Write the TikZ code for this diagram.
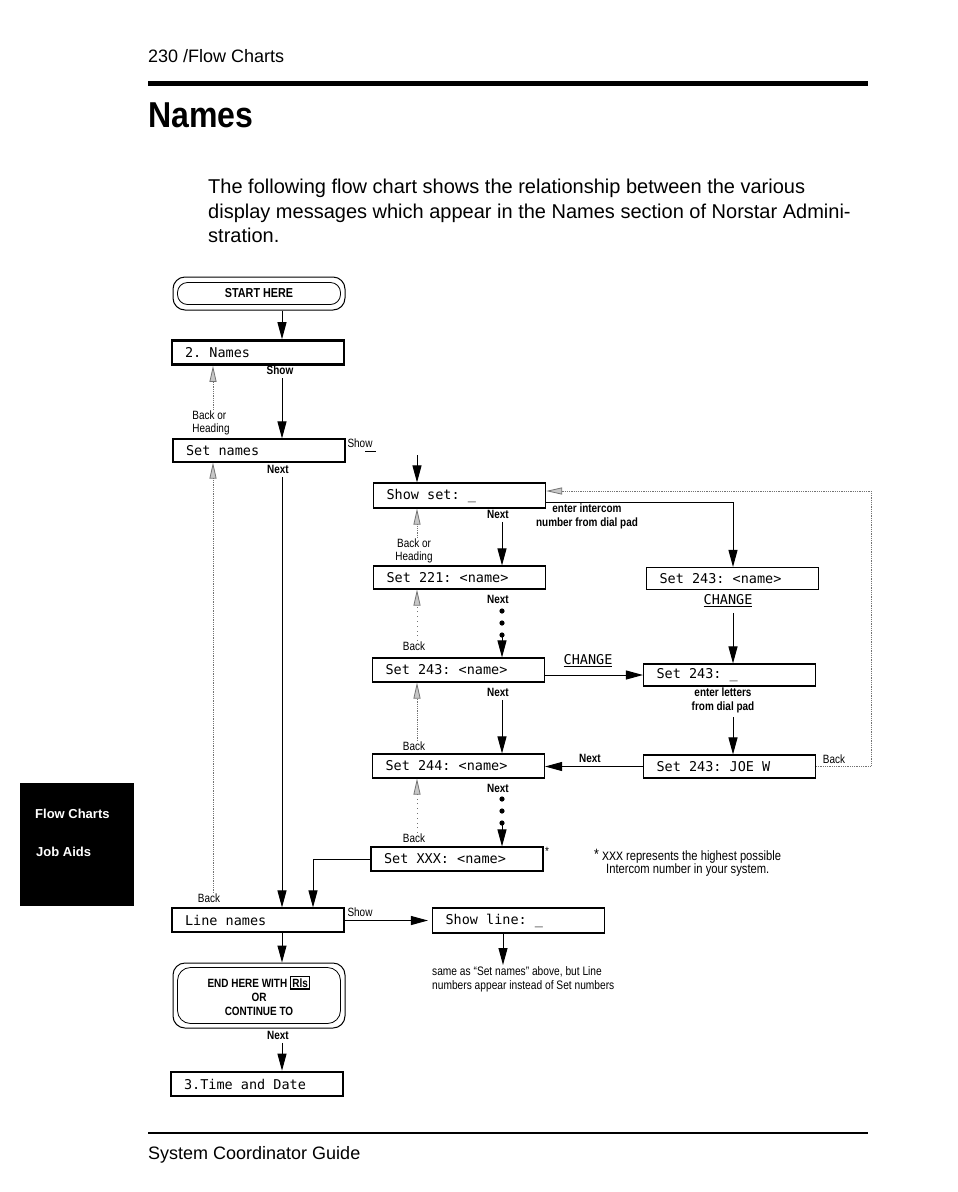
\documentclass[tikz,border=0pt]{standalone}
\usepackage{fontspec}
\setmainfont{Liberation Sans}
\newfontfamily\cond[FakeStretch=0.83]{Liberation Sans}
\newfontfamily\headfont[FakeStretch=0.89]{Liberation Sans}
\newfontfamily\lcd{DejaVu Sans Mono}
\newcommand\lcdfont{\lcd\fontsize{13.5}{15}\selectfont}
\newcommand\monospaces{\spaceskip=0.602em\relax\xspaceskip=0.602em\relax}
\usetikzlibrary{arrows.meta,calc}
\setlength{\fboxsep}{1.2pt}
\setlength{\fboxrule}{1.3pt}
\tikzset{
  lcdbox/.style={draw, line width=1.1pt, font=\lcdfont,
    inner xsep=13pt, inner ysep=0pt, text width=146pt, align=left, minimum height=24pt,
    execute at begin node=\monospaces},
  heavy/.style={line width=2.6pt},
  arr/.style={-{Triangle[length=17pt,width=9pt]}, line width=1pt},
  barr/.style={-{Triangle[length=16pt,width=7pt,fill=black!22]}, draw=black!55, densely dotted, line width=0.8pt},
  lbl/.style={font=\cond\fontsize{12}{13}\selectfont, inner sep=0.5pt},
  lblb/.style={font=\cond\bfseries\fontsize{12}{13}\selectfont, inner sep=0.5pt},
  chg/.style={font=\lcdfont, inner sep=0.5pt}
}
\begin{document}
\begin{tikzpicture}[x=1pt,y=-1pt]
\fill[white] (0,0) rectangle (958,1192);
\useasboundingbox (0,0) rectangle (958,1192);

% page header / footer
\node[anchor=base west, font=\fontsize{18}{20}\selectfont, inner sep=0pt] (hdr) at (148,62) {230 /Flow Charts};
\draw[line width=5pt] (148,83) -- (868,83);
\node[anchor=base west, font=\headfont\bfseries\fontsize{36}{40}\selectfont, inner sep=0pt] (title) at (148,127) {Names};
\node[anchor=base west, font=\fontsize{20}{24}\selectfont, inner sep=0pt] (p1) at (208,193) {The following flow chart shows the relationship between the various};
\node[anchor=base west, font=\fontsize{20}{24}\selectfont, inner sep=0pt] (p2) at (208,218) {display messages which appear in the Names section of Norstar Admini-};
\node[anchor=base west, font=\fontsize{20}{24}\selectfont, inner sep=0pt] (p3) at (208,242) {stration.};
\draw[line width=1.8pt] (148,1133) -- (868,1133);
\node[anchor=base west, font=\fontsize{18}{20}\selectfont, inner sep=0pt] (ftr) at (148,1159) {System Coordinator Guide};

% side tab
\fill (20,783) rectangle (134,906);
\node[anchor=base west, text=white, font=\bfseries\fontsize{13}{14}\selectfont, inner sep=0pt] (sb1) at (35,818) {Flow Charts};
\node[anchor=base west, text=white, font=\bfseries\fontsize{13}{14}\selectfont, inner sep=0pt] (sb2) at (36,856) {Job Aids};

% column coordinates
\coordinate (cA) at (282,0);
\coordinate (cB) at (213,0);
\coordinate (cM) at (502,0);
\coordinate (cMb) at (417,0);
\coordinate (cR) at (733,0);
\coordinate (cL) at (313,0);

% start
\node[draw, rounded corners=12pt, line width=1pt, minimum width=172pt, minimum height=33pt, inner sep=0pt,
      font=\cond\bfseries\fontsize{13}{14}\selectfont] (start) at (259,293.5) {START HERE};
\draw[rounded corners=10pt, line width=0.8pt] ($(start.north west)+(5,6)$) rectangle ($(start.south east)+(-5,-6)$);

% left column boxes
\node[lcdbox, heavy, minimum height=24pt] (n2) at (258,352.5) {2. Names};
\node[lcdbox, minimum height=23pt] (setn) at (259,450.5) {Set names};
\node[lcdbox, minimum height=24pt] (linen) at (258,920) {Line names};
\node[draw, rounded corners=12pt, line width=1pt, minimum width=172pt, minimum height=65pt, inner sep=0pt, align=center,
      font=\cond\bfseries\fontsize{12}{14}\selectfont] (endh) at (259,995.5) {END HERE WITH \fbox{Rls}\\OR\\CONTINUE TO};
\draw[rounded corners=13pt, line width=0.8pt] ($(endh.north west)+(5,5)$) rectangle ($(endh.south east)+(-5,-5)$);
\node[lcdbox, heavy, minimum height=24pt] (timed) at (257,1084) {3.Time and Date};

% middle column boxes
\node[lcdbox, minimum height=25pt] (showset) at (459.5,495.5) {Show set: \_};
\node[lcdbox, minimum height=23pt] (s221) at (459.5,577.5) {Set 221: <name>};
\node[lcdbox, minimum height=24pt] (s243) at (458.5,670) {Set 243: <name>};
\node[lcdbox, minimum height=24pt] (s244) at (458.5,766) {Set 244: <name>};
\node[lcdbox, minimum height=24pt] (sxxx) at (457,859) {Set XXX: <name>};
\node[lcdbox, minimum height=25pt] (showl) at (518.5,920.5) {Show line: \_};

% right column boxes
\node[lcdbox, minimum height=22pt] (r243n) at (732.5,578.5) {Set 243: <name>};
\node[lcdbox, minimum height=22pt] (r243b) at (729.5,675) {Set 243: \_};
\node[lcdbox, minimum height=23pt] (rjoe) at (729.5,766.5) {Set 243: JOE W};

% labels
\node[lblb] (show1) at (280,370) {Show};
\node[lbl, align=left] (boh1) at (211,422.5) {Back or\\Heading};
\node[lbl] (showR1) at (360,443) {Show};
\node[lblb] (next1) at (278,469) {Next};
\node[lbl] (back1) at (209,898) {Back};
\node[lblb] (next2) at (498,514) {Next};
\node[lblb, align=center, font=\cond\bfseries\fontsize{12}{14.5}\selectfont] (icl) at (587,516.5) {enter intercom\\number from dial pad};
\node[lbl, align=center] (boh2) at (414,550.5) {Back or\\Heading};
\node[lblb] (next3) at (498,599) {Next};
\node[lbl] (back2) at (414,646) {Back};
\node[chg] (change1) at (588,661) {\underline{CHANGE}};
\node[lblb] (next4) at (498,692) {Next};
\node[lbl] (back3) at (414,746) {Back};
\node[lblb] (next5) at (590,758) {Next};
\node[lblb] (next6) at (498,788) {Next};
\node[lbl] (back4) at (414,838) {Back};
\node[lbl] (star) at (547,851) {*};
\node[chg] (change2) at (728,601) {\underline{CHANGE}};
\node[lblb, align=center, font=\cond\bfseries\fontsize{12}{14}\selectfont] (letters) at (723,700) {enter letters\\from dial pad};
\node[lbl] (backR) at (834,759) {Back};
\node[lbl] (show2) at (360,912) {Show};
\node[lblb] (next7) at (278,1035) {Next};

% footnote and note
\node[anchor=base west, font=\cond\fontsize{13.5}{15}\selectfont, inner sep=0pt] (fn1) at (594,860)
  {\raisebox{1pt}{\fontsize{15}{15}\selectfont*}\ {\lcd\fontsize{11.5}{12}\selectfont XXX}\ represents the highest possible};
\node[anchor=base west, font=\cond\fontsize{13.5}{15}\selectfont, inner sep=0pt] (fn2) at (606,873) {Intercom number in your system.};
\node[anchor=north west, align=left, font=\cond\fontsize{12.3}{14}\selectfont, inner sep=0pt] (note) at (432,966)
  {same as “Set names” above, but Line\\numbers appear instead of Set numbers};

% connectors: left column
\draw[arr] (start.south -| cA) -- (n2.north -| cA);
\draw[arr, shorten <=3pt] (show1.south -| cA) -- (setn.north -| cA);
\draw[barr] (boh1.north -| cB) -- (n2.south -| cB);
\draw[line width=0.6pt] (showR1.south east) ++(-8pt,-3pt) -- ++(11pt,0pt);
\draw[arr, shorten <=3pt] (next1.south -| cA) -- (linen.north -| cA);
\draw[barr] (back1.north -| cB) -- (setn.south -| cB);

% connectors: middle column
\coordinate (stub) at (417,455);
\draw[arr] (stub) -- (showset.north -| stub);
\coordinate (fb) at (871,491);
\draw[barr] (rjoe.east) -- (rjoe.east -| fb) -- (fb) -- (showset.east |- fb);
\coordinate (ic) at (733,502);
\draw[arr] (showset.east |- ic) -- (ic) -- (r243n.north -| ic);
\draw[arr, shorten <=3pt] (next2.south -| cM) -- (s221.north -| cM);
\draw[barr] (boh2.north -| cMb) -- (showset.south -| cMb);

\fill (502,611) circle[radius=2.6pt];
\fill (502,623) circle[radius=2.6pt];
\fill (502,635) circle[radius=2.6pt];
\coordinate (d1) at (502,635);
\draw[arr] (d1) -- (s243.north -| d1);
\draw[barr, loosely dotted] (back2.north -| cMb) -- (s221.south -| cMb);

\draw[arr] (s243.east |- r243b.west) -- (r243b.west);
\draw[arr, shorten <=3pt] (next4.south -| cM) -- (s244.north -| cM);
\draw[barr] (back3.north -| cMb) -- (s243.south -| cMb);
\draw[arr] (rjoe.west) -- (rjoe.west -| s244.east);

\fill (502,799) circle[radius=2.6pt];
\fill (502,811) circle[radius=2.6pt];
\fill (502,823) circle[radius=2.6pt];
\coordinate (d2) at (502,823);
\draw[arr] (d2) -- (sxxx.north -| d2);
\draw[barr, loosely dotted] (back4.north -| cMb) -- (s244.south -| cMb);

% connectors: right column
\draw[arr, shorten <=5pt] (change2.south -| cR) -- (r243b.north -| cR);
\draw[arr, shorten <=4pt] (letters.south -| cR) -- (rjoe.north -| cR);

% connectors: bottom
\draw[arr] (sxxx.west) -- (sxxx.west -| cL) -- (linen.north -| cL);
\draw[arr, shorten >=4pt] (linen.east |- showl.west) -- (showl.west);
\coordinate (noteTop) at (503,965);
\draw[arr] (showl.south -| noteTop) -- (noteTop);
\draw[arr] (linen.south -| cA) -- (endh.north -| cA);
\draw[arr, shorten <=3pt] (next7.south -| cA) -- (timed.north -| cA);
\end{tikzpicture}
\end{document}
